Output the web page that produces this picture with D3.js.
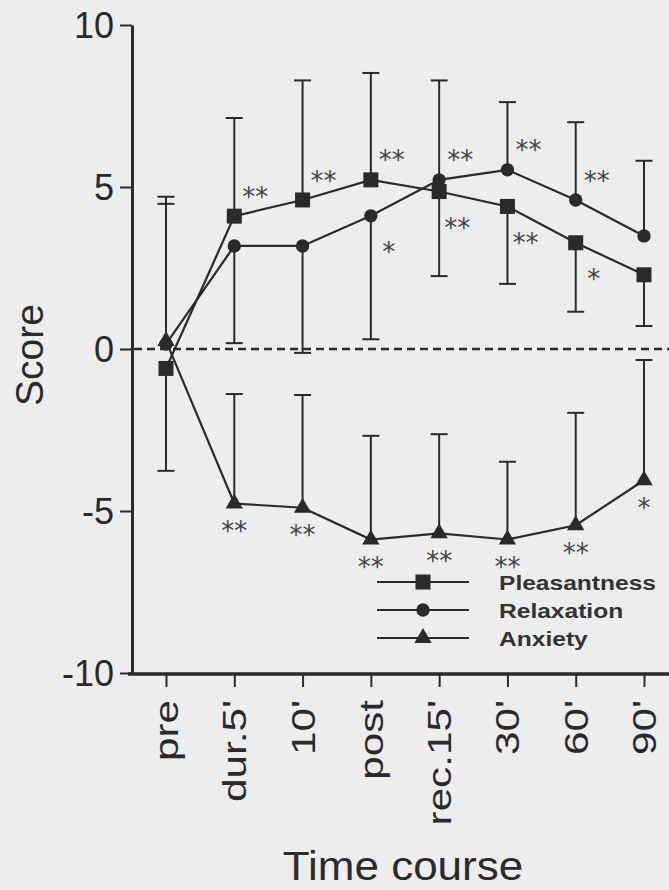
<!DOCTYPE html>
<html>
<head>
<meta charset="utf-8">
<script src="https://cdn.jsdelivr.net/npm/d3@7"></script>
<style>
  html, body { margin: 0; padding: 0; background: #ededed; }
  svg { display: block; }
</style>
</head>
<body>
<svg id="chart" width="669" height="890"></svg>
<script>
// Time points
const categories = ["pre", "dur.5'", "10'", "post", "rec.15'", "30'", "60'", "90'"];

// Mean scores
const pleasantness = [-0.6, 4.1, 4.6, 5.22, 4.86, 4.40, 3.28, 2.29];
const relaxation   = [0.15, 3.18, 3.18, 4.11, 5.22, 5.53, 4.60, 3.49];
const anxiety      = [0.25, -4.77, -4.90, -5.88, -5.69, -5.88, -5.44, -4.05];

// Standard deviations (one-sided bars)
const pleasantnessSD = [3.16, 3.03, 3.69, 3.30, 2.61, 2.39, 2.13, 1.58];
const relaxationSD   = [4.33, 3.00, 3.30, 3.81, 3.07, 2.09, 2.40, 2.32];
const anxietySD      = [4.45, 3.38, 3.48, 3.20, 3.06, 2.40, 3.47, 3.71];

// Which way each SD bar points (+1 up, -1 down)
const pleasantnessBarSide = [-1, 1, 1, 1, -1, -1, -1, -1];
const relaxationBarSide   = [1, -1, -1, -1, 1, 1, 1, 1];
const anxietyBarSide      = [1, 1, 1, 1, 1, 1, 1, 1];

// Significance versus pre
const pleasantnessSig = ["", "**", "**", "**", "**", "**", "*", ""];
const relaxationSig   = ["", "", "", "*", "**", "**", "**", ""];
const anxietySig      = ["", "**", "**", "**", "**", "**", "**", "*"];

// Axis ticks
const yTicks = [-10, -5, 0, 5, 10];

const ink = "#2a2a2a";
const font = "'Liberation Sans', Arial, Helvetica, sans-serif";

const svg = d3.select("#chart");
svg.append("rect").attr("width", 669).attr("height", 890).attr("fill", "#ededed");

const x = d3.scalePoint().domain(categories).range([166, 644]);
const y = d3.scaleLinear().domain([-10, 10]).range([673, 25]);

// Reference line at zero
svg.append("line")
  .attr("x1", 134).attr("x2", 669)
  .attr("y1", y(0)).attr("y2", y(0))
  .attr("stroke", ink).attr("stroke-width", 2.6)
  .attr("stroke-dasharray", "8,5");

const series = [
  { name: "Pleasantness", values: pleasantness, sd: pleasantnessSD, side: pleasantnessBarSide, sig: pleasantnessSig, symbol: d3.symbolSquare, size: 225 },
  { name: "Relaxation",   values: relaxation,   sd: relaxationSD,   side: relaxationBarSide,   sig: relaxationSig,   symbol: d3.symbolCircle, size: 140 },
  { name: "Anxiety",      values: anxiety,      sd: anxietySD,      side: anxietyBarSide,      sig: anxietySig,      symbol: d3.symbolTriangle, size: 130 }
];

// SD bars
const capHalf = 8.5;
series.forEach(s => {
  const g = svg.append("g").attr("stroke", ink).attr("stroke-width", 2).attr("fill", "none");
  categories.forEach((c, i) => {
    const v0 = s.values[i];
    const v1 = v0 + s.side[i] * s.sd[i];
    g.append("line").attr("x1", x(c)).attr("x2", x(c)).attr("y1", y(v0)).attr("y2", y(v1));
    g.append("line").attr("x1", x(c) - capHalf).attr("x2", x(c) + capHalf).attr("y1", y(v1)).attr("y2", y(v1));
  });
});

// Lines
const line = d3.line().x((d, i) => x(categories[i])).y(d => y(d));
series.forEach(s => {
  svg.append("path")
    .attr("d", line(s.values))
    .attr("fill", "none")
    .attr("stroke", ink)
    .attr("stroke-width", 2.2);
});

// Markers
series.forEach(s => {
  svg.append("g").selectAll("path")
    .data(s.values)
    .join("path")
    .attr("d", d3.symbol(s.symbol, s.size))
    .attr("transform", (d, i) => `translate(${x(categories[i])},${y(d)})`)
    .attr("fill", ink);
});

// Significance asterisks
const starSize = 26;
function drawStar(cx, cy, txt) {
  svg.append("text")
    .attr("x", cx).attr("y", cy + 0.56 * starSize)
    .attr("text-anchor", "middle")
    .attr("font-family", "'DejaVu Sans', sans-serif")
    .attr("font-size", starSize)
    .attr("fill", "#444")
    .text(txt);
}
const [P, R, A] = series;
categories.forEach((c, i) => {
  [[P, R], [R, P]].forEach(([s, other]) => {
    if (!s.sig[i]) return;
    const above = s.values[i] > other.values[i];
    drawStar(x(c) + (above ? 21 : 18), y(s.values[i]) + (above ? -25 : 31), s.sig[i]);
  });
  if (A.sig[i]) drawStar(x(c), y(A.values[i]) + 22, A.sig[i]);
});

// Y axis
const yAxis = svg.append("g")
  .attr("transform", "translate(132,0)")
  .call(d3.axisLeft(y).tickValues(yTicks).tickFormat(d => String(d)).tickSize(12).tickSizeOuter(0).tickPadding(6));
yAxis.select(".domain").attr("stroke", ink).attr("stroke-width", 3);
yAxis.selectAll(".tick line").attr("stroke", ink).attr("stroke-width", 2);
yAxis.selectAll(".tick text")
  .attr("fill", ink)
  .attr("font-family", font)
  .attr("font-size", 36)
  .attr("dy", "0.36em");

// X axis
const xAxis = svg.append("g")
  .attr("transform", "translate(0,674)")
  .call(d3.axisBottom(x).tickSize(13).tickSizeOuter(0));
xAxis.select(".domain").attr("d", "M128,0H700").attr("stroke", ink).attr("stroke-width", 3.5);
xAxis.selectAll(".tick line").attr("stroke", ink).attr("stroke-width", 2);
xAxis.selectAll(".tick text")
  .attr("fill", ink)
  .attr("font-family", font)
  .attr("font-size", 33)
  .attr("text-anchor", "end")
  .attr("x", 0).attr("y", 0)
  .attr("dy", "0.35em")
  .attr("transform", "translate(0,26) rotate(-90) scale(1.28,1)");

// Axis titles
svg.append("text")
  .attr("transform", "translate(43,355) rotate(-90)")
  .attr("text-anchor", "middle")
  .attr("font-family", font)
  .attr("font-size", 39)
  .attr("fill", ink)
  .text("Score");

svg.append("text")
  .attr("transform", "translate(403,880) scale(1.1,1)")
  .attr("text-anchor", "middle")
  .attr("font-family", font)
  .attr("font-size", 40)
  .attr("fill", ink)
  .text("Time course");

// Legend
const legendRows = [582, 610, 638];
series.forEach((s, k) => {
  const ly = legendRows[k];
  svg.append("line")
    .attr("x1", 377).attr("x2", 469).attr("y1", ly).attr("y2", ly)
    .attr("stroke", ink).attr("stroke-width", 2);
  svg.append("path")
    .attr("d", d3.symbol(s.symbol, s.size))
    .attr("transform", `translate(423,${ly})`)
    .attr("fill", ink);
  svg.append("text")
    .attr("transform", `translate(499,${ly + 8}) scale(1.17,1)`)
    .attr("font-family", font)
    .attr("font-size", 21)
    .attr("font-weight", "bold")
    .attr("fill", "#333")
    .text(s.name);
});
</script>
</body>
</html>
